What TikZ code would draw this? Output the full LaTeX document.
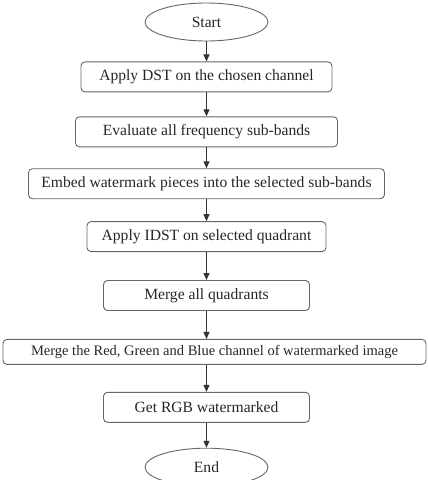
\documentclass[tikz,border=0pt]{standalone}
\usepackage{fontspec}
\setmainfont{Liberation Serif}
\usetikzlibrary{arrows.meta, positioning, shapes.geometric}

\begin{document}
\begin{tikzpicture}[
  stepbox/.style  = {rectangle, rounded corners=4pt, draw=black!60, line width=0.9pt,
                     minimum height=30pt, inner xsep=5pt, text=black!85,
                     font=\fontsize{15.6}{17}\selectfont},
  term/.style     = {ellipse, draw=black!60, line width=0.9pt, minimum width=123pt,
                     minimum height=38pt, text=black!85, font=\fontsize{15.6}{17}\selectfont},
  arrow/.style    = {-{Triangle[length=7pt, width=6pt]}, line width=1pt, black!80},
  node distance   = 22pt
]

% ── Page frame ───────────────────────────────────────────────────────────────
\useasboundingbox (0,0) rectangle (428pt,-480pt);

% ── Flow (top → bottom) ──────────────────────────────────────────────────────
\node[term] (start) at (206.5pt,-22pt) {Start};

\node[stepbox, minimum width=251pt, below=20pt of start]
  (dst) {Apply DST on the chosen channel};

\node[stepbox, minimum width=262pt, below=24pt of dst]
  (eval) {Evaluate all frequency sub-bands};

\node[stepbox, minimum width=356pt, below=21pt of eval]
  (embed) {Embed watermark pieces into the selected sub-bands};

\node[stepbox, minimum width=239pt, below=of embed]
  (idst) {Apply IDST on selected quadrant};

\node[stepbox, minimum width=206pt, below=28pt of idst]
  (quad) {Merge all quadrants};

\node[stepbox, minimum width=423pt, minimum height=25pt, below=28pt of quad, xshift=8pt,
      font=\fontsize{14.5}{16}\selectfont]
  (rgb) {Merge the Red, Green and Blue channel of watermarked image};

\node[stepbox, minimum width=206pt, below=27pt of rgb, xshift=-8pt]
  (get) {Get RGB watermarked};

\node[term, below=25pt of get] (end) {End};

% ── Arrows ───────────────────────────────────────────────────────────────────
\draw[arrow] (start.south) -- (dst.north);
\draw[arrow] (dst.south) -- (eval.north);
\draw[arrow] (eval.south) -- (embed.north);
\draw[arrow] (embed.south) -- (idst.north);
\draw[arrow] (idst.south) -- (quad.north);
\draw[arrow] (quad.south) -- (quad.south |- rgb.north);
\draw[arrow] (get.south |- rgb.south) -- (get.north);
\draw[arrow] (get.south) -- (end.north);

\end{tikzpicture}
\end{document}
